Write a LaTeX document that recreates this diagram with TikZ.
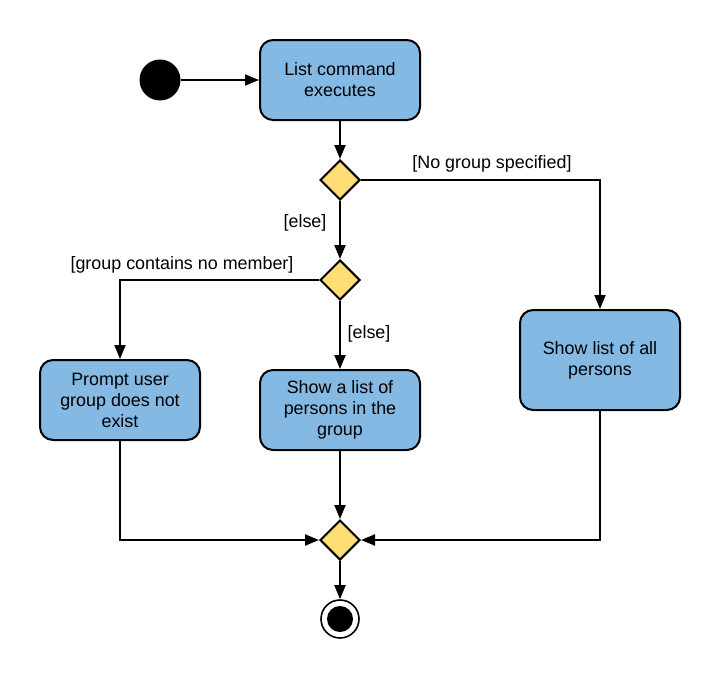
\documentclass[tikz,border=0pt]{standalone}
\usepackage{fontspec}
\setmainfont{Liberation Sans}
\usetikzlibrary{shapes.geometric,arrows.meta}
\definecolor{actblue}{HTML}{83B9E3}
\definecolor{decyellow}{HTML}{FFDD75}
\begin{document}
\begin{tikzpicture}[x=1pt,y=-1pt,
  every node/.style={font=\fontsize{17.9}{21}\selectfont},
  act/.style={draw=black,line width=2pt,fill=actblue,rounded corners=13pt,
    minimum width=160pt,align=center,inner sep=0pt},
  decision/.style={draw=black,line width=2pt,fill=decyellow,diamond,aspect=1,
    minimum size=40pt,inner sep=0pt},
  flow/.style={line width=2pt,-{Triangle[length=14pt,width=11pt]}},
  guard/.style={inner sep=0pt}]
  \useasboundingbox (0,0) rectangle (720,680);
  \fill[white] (0,0) rectangle (720,680);

  % start and activities
  \node[circle,fill=black,minimum size=41pt,inner sep=0pt] (start) at (160,80) {};
  \node[act,minimum height=80pt] (list) at (340,80) {List command\\executes};
  \node[decision] (d1) at (340,180) {};
  \node[decision] (d2) at (340,280) {};
  \node[act,minimum height=100pt] (all) at (600,360) {Show list of all\\persons};
  \node[act,minimum height=80pt] (prompt) at (120,400) {Prompt user\\group does not\\exist};
  \node[act,minimum height=80pt] (group) at (340,410) {Show a list of\\persons in the\\group};
  \node[decision] (merge) at (340,540) {};

  % final state
  \node[circle,draw=black,line width=1.6pt,fill=white,minimum size=38pt,inner sep=0pt] (final) at (340,619) {};
  \node[circle,fill=black,minimum size=26pt,inner sep=0pt] (finalin) at (final) {};

  % guards
  \node[guard] (gnone) at (492,164) {[No group specified]};
  \node[guard] (gelse1) at (305,223) {[else]};
  \node[guard] (gempty) at (182,265) {[group contains no member]};
  \node[guard] (gelse2) at (369,334) {[else]};

  % flows
  \draw[flow] (start) -- (list);
  \draw[flow] (list) -- (d1);
  \draw[flow] (d1.east) -| (all.north);
  \draw[flow] (d1) -- (d2);
  \draw[flow] (d2.west) -| (prompt.north);
  \draw[flow] (d2) -- (group);
  \draw[flow] (prompt.south) |- (merge.west);
  \draw[flow] (group) -- (merge);
  \draw[flow] (all.south) |- (merge.east);
  \draw[flow] (merge) -- (final);
\end{tikzpicture}
\end{document}
